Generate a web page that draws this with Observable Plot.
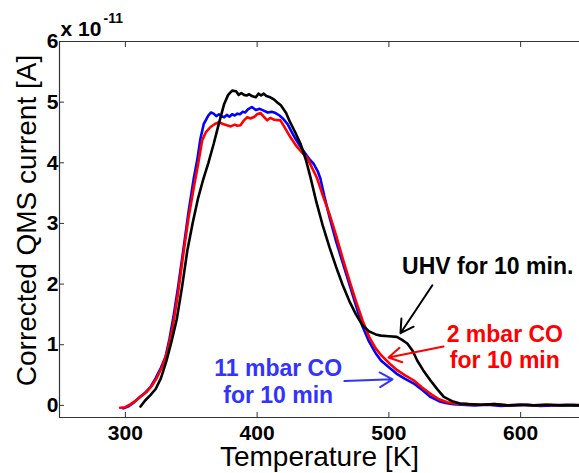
<!DOCTYPE html>
<html>
<head>
<meta charset="utf-8">
<script src="https://cdn.jsdelivr.net/npm/d3@7"></script>
<script src="https://cdn.jsdelivr.net/npm/@observablehq/plot@0.6"></script>
<style>
  html, body { margin: 0; padding: 0; background: white; overflow: hidden; }
</style>
</head>
<body>
<div id="chart"></div>
<script>
// ---- data ----
const uhvT = [311.5,315,319,323,327,331,335,339,343,347,351,355,359,363,367,371,375,378,381,384,386,388,390,392,394,396,399,401,403,405,407,410,413,415,418,422,425,429,433,437,440.5,445,450,455,460,465,470,475,480,485,490,494,500,506,510,514,518,521.5,526,531.6,537,541.7,548,554,560,570,580,590,600,610,620,630,640,650];
const uhvV = [-0.02,0.08,0.17,0.27,0.45,0.72,1.05,1.42,1.95,2.55,3.0,3.4,3.72,4.0,4.31,4.65,4.97,5.12,5.19,5.18,5.12,5.15,5.12,5.11,5.13,5.1,5.08,5.14,5.11,5.14,5.1,5.08,5.04,5.0,4.95,4.82,4.67,4.5,4.31,4.05,3.76,3.35,2.95,2.6,2.28,1.98,1.72,1.5,1.32,1.22,1.17,1.15,1.14,1.13,1.08,1.02,0.9,0.74,0.58,0.41,0.26,0.14,0.07,0.03,0.02,0.01,0.02,0.0,0.01,0.0,0.01,0.0,0.0,0.0];

const co11T = [298.5,302,306,310,315,319,323,327,330.5,333.5,336.5,340,343.9,348,351.9,354.5,357,359.5,361,363,365,367,369,371,373,375,377,379,381,383,385,387,389,391,393,396,399,402,405,408,411,414,417,420,423,426,429,433,437,440,443,446,448,451,455,460,465,470,475,480,485,490,494,500,506,512,519,525,531.6,538,543,549,555,565,575,585,595,605,615,625,635,645,650];
const co11V = [-0.05,-0.02,0.04,0.12,0.21,0.3,0.45,0.62,0.8,1.1,1.46,1.95,2.55,3.2,3.74,4.04,4.4,4.64,4.7,4.78,4.83,4.81,4.77,4.8,4.77,4.75,4.79,4.76,4.8,4.78,4.81,4.8,4.84,4.83,4.88,4.92,4.87,4.89,4.86,4.83,4.84,4.82,4.78,4.72,4.64,4.52,4.4,4.26,4.14,4.05,3.98,3.86,3.74,3.45,3.1,2.7,2.35,2.0,1.65,1.3,1.05,0.86,0.74,0.63,0.52,0.44,0.36,0.26,0.14,0.07,0.04,0.02,0.01,0.0,0.01,-0.01,0.0,0.01,-0.01,0.0,0.01,0.0,0.0];

const co2T = [296,300,304,308,312,316,320,324,328,332,336,340,344,348,352,355,358.3,361,364.6,368,371,374,377,380,383,385,387.4,390,392.5,395,398,400,402.6,405,407.6,410,413,417.7,421,425.3,430,434,437.9,441,445.6,450,455,460,465,470,475,480,485,490,494,500,506.3,512,519,525,531.6,538,544.3,550,560,570,580,590,600,610,620,630,640,650];
const co2V = [-0.04,-0.03,0.02,0.08,0.15,0.22,0.32,0.46,0.64,0.9,1.3,1.85,2.5,3.1,3.6,3.95,4.37,4.5,4.59,4.64,4.67,4.64,4.62,4.6,4.63,4.61,4.62,4.7,4.75,4.73,4.76,4.8,4.82,4.76,4.7,4.74,4.71,4.7,4.58,4.42,4.27,4.17,4.09,3.95,3.74,3.45,3.15,2.8,2.42,2.06,1.72,1.4,1.13,0.94,0.83,0.7,0.58,0.5,0.41,0.3,0.19,0.1,0.05,0.03,0.02,0.01,0.02,0.0,0.01,0.0,0.01,0.0,0.01,0.0];

const xTicks = [300, 400, 500, 600];
const yTicks = [0, 1, 2, 3, 4, 5, 6];

const labelTexts = ["UHV for 10 min.", "2 mbar CO\nfor 10 min", "11 mbar CO\nfor 10 min"];
const labelT = [575, 588, 416];
const labelV = [2.31, 0.97, 0.40];
const labelColors = ["#000000", "#ff0000", "#3333ff"];

const arrowT1 = [533, 541.5, 466.3];
const arrowV1 = [1.98, 0.97, 0.40];
const arrowT2 = [508.8, 499.7, 502.8];
const arrowV2 = [1.19, 0.79, 0.43];

// ---- build tables ----
const toRows = (T, V) => T.map((t, i) => ({t, v: V[i]}));
const uhv = toRows(uhvT, uhvV);
const co11 = toRows(co11T, co11V);
const co2 = toRows(co2T, co2V);
const labels = labelTexts.map((s, i) => ({s, t: labelT[i], v: labelV[i], c: labelColors[i]}));
const arrows = arrowT1.map((t1, i) => ({t1, v1: arrowV1[i], t2: arrowT2[i], v2: arrowV2[i], c: labelColors[i]}));

const font = "'Liberation Sans', Arial, sans-serif";
const axisColor = "#333";

const chart = Plot.plot({
  width: 579,
  height: 473,
  marginLeft: 59,
  marginRight: 0,
  marginTop: 41,
  marginBottom: 56,
  style: {fontFamily: font, fontSize: "21px", fontWeight: "bold", color: "black", background: "white"},
  x: {domain: [250, 650], range: [59, 586]},
  y: {domain: [-0.2, 6]},
  marks: [
    Plot.axisX(xTicks, {anchor: "bottom", tickSize: -5, tickPadding: 13, tickFormat: d3.format("d"), label: null, stroke: axisColor, fill: "black"}),
    Plot.axisX(xTicks, {anchor: "top", tickSize: -5, tickFormat: () => "", label: null, stroke: axisColor}),
    Plot.axisY(yTicks, {anchor: "left", tickSize: -5, tickPadding: 6, tickFormat: d3.format("d"), label: null, stroke: axisColor, fill: "black"}),
    Plot.ruleY([-0.2], {stroke: axisColor, strokeWidth: 1.2}),
    Plot.ruleY([6], {stroke: axisColor, strokeWidth: 1.2}),
    Plot.ruleX([250], {stroke: axisColor, strokeWidth: 1.2}),
    Plot.line(co11, {x: "t", y: "v", stroke: "#0000ff", strokeWidth: 2.6, clip: true}),
    Plot.line(co2, {x: "t", y: "v", stroke: "#ff0000", strokeWidth: 2.6, clip: true}),
    Plot.line(uhv, {x: "t", y: "v", stroke: "#000000", strokeWidth: 2.6, clip: true}),
    Plot.arrow(arrows, {x1: "t1", y1: "v1", x2: "t2", y2: "v2", stroke: "c", strokeWidth: 2, headLength: 11}),
    Plot.text(labels, {x: "t", y: "v", text: "s", fill: "c", fontSize: 23, fontWeight: "bold", lineHeight: 1.15, textAnchor: "middle", lineAnchor: "middle"}),
    Plot.text(["Temperature [K]"], {frameAnchor: "bottom", dy: 40, lineAnchor: "middle", fontSize: 28, fontWeight: "normal", fill: "black"}),
    Plot.text(["Corrected QMS current [A]"], {frameAnchor: "left", dx: -32, dy: -9, rotate: -90, lineAnchor: "middle", textAnchor: "middle", fontSize: 28, fontWeight: "normal", fill: "black"}),
    Plot.text(["x 10"], {frameAnchor: "top-left", dx: 1, dy: -6, textAnchor: "start", lineAnchor: "bottom", fontSize: 21, fontWeight: "bold", fill: "black"}),
    Plot.text(["-11"], {frameAnchor: "top-left", dx: 44, dy: -19, textAnchor: "start", lineAnchor: "bottom", fontSize: 14, fontWeight: "bold", fill: "black"})
  ]
});
document.getElementById("chart").appendChild(chart);
</script>
</body>
</html>
